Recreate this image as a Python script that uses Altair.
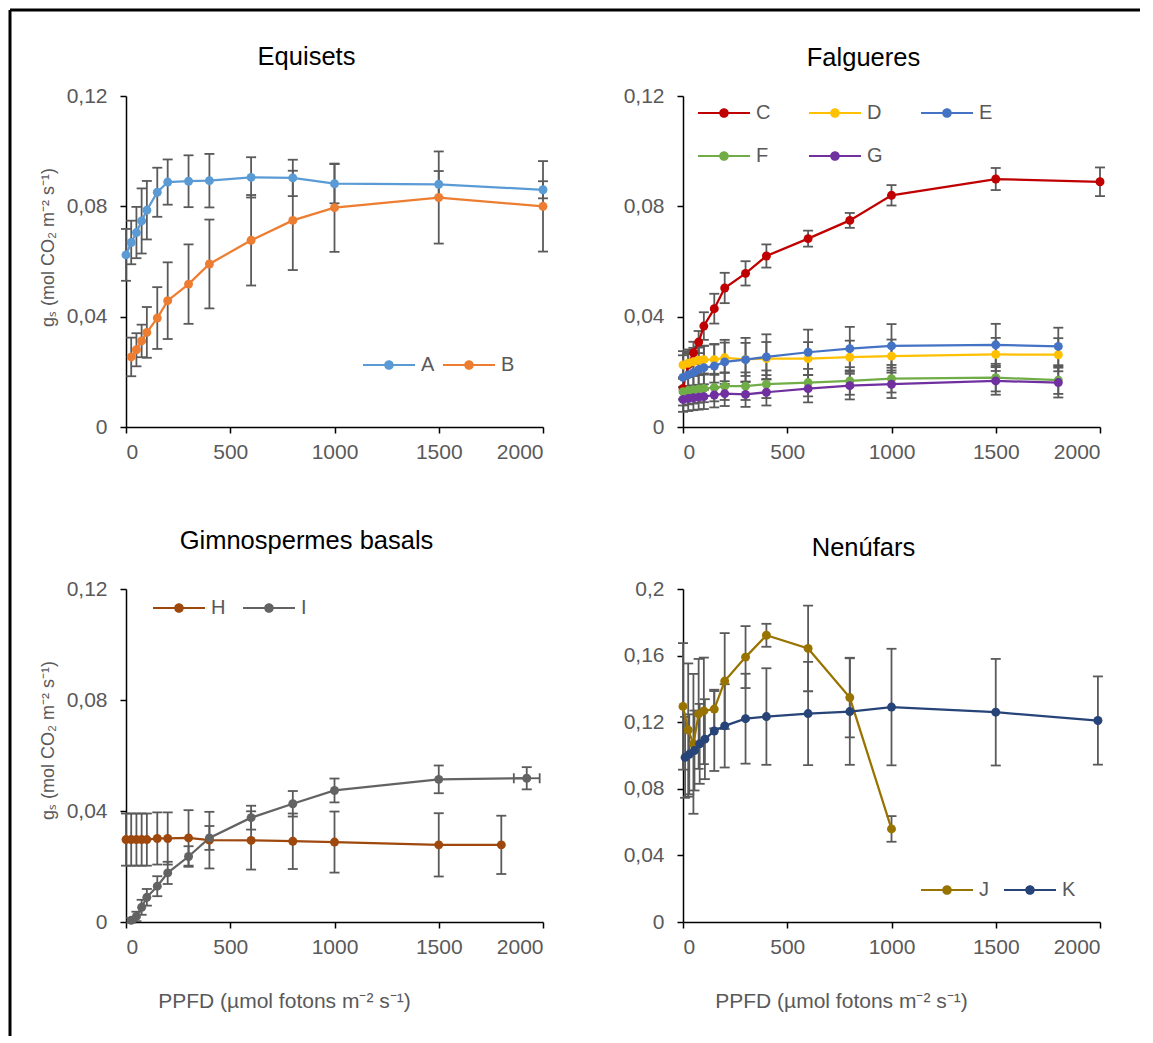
import altair as alt
import pandas as pd

FONT = "Liberation Sans"
TXT = "#595959"
ERR = "#5a5a5a"

# ---------------- Equisets ----------------
A_x = [0, 25, 50, 75, 100, 150, 200, 300, 400, 600, 800, 1000, 1500, 2000]
A_y = [0.0624, 0.0669, 0.0705, 0.0747, 0.0786, 0.0851, 0.0888, 0.0891, 0.0893, 0.0905, 0.0903, 0.0882, 0.0880, 0.0860]
A_e = [0.0094, 0.0079, 0.0093, 0.0118, 0.0106, 0.0089, 0.0082, 0.0094, 0.0097, 0.0073, 0.0066, 0.0071, 0.0048, 0.0031]
B_x = [25, 50, 75, 100, 150, 200, 300, 400, 600, 800, 1000, 1500, 2000]
B_y = [0.0254, 0.0280, 0.0312, 0.0343, 0.0395, 0.0458, 0.0518, 0.0591, 0.0677, 0.0749, 0.0795, 0.0832, 0.0800]
B_e = [0.0070, 0.0060, 0.0059, 0.0092, 0.0112, 0.0139, 0.0144, 0.0161, 0.0164, 0.0180, 0.0160, 0.0167, 0.0164]

# ---------------- Falgueres ----------------
F_x = [0, 25, 50, 75, 100, 150, 200, 300, 400, 600, 800, 1000, 1500, 1800]
C_x = [0, 25, 50, 75, 100, 150, 200, 300, 400, 600, 800, 1000, 1500, 2000]
C_y = [0.0140, 0.0225, 0.0269, 0.0308, 0.0366, 0.0429, 0.0504, 0.0557, 0.0620, 0.0683, 0.0749, 0.0840, 0.0899, 0.0889]
C_e = [0.0040, 0.0040, 0.0040, 0.0040, 0.0050, 0.0054, 0.0055, 0.0044, 0.0042, 0.0029, 0.0027, 0.0037, 0.0040, 0.0052]
D_y = [0.0225, 0.0231, 0.0237, 0.0242, 0.0244, 0.0244, 0.0251, 0.0245, 0.0248, 0.0248, 0.0253, 0.0257, 0.0263, 0.0262]
D_e = [0.0050, 0.0050, 0.0050, 0.0050, 0.0050, 0.0055, 0.0055, 0.0060, 0.0060, 0.0060, 0.0060, 0.0060, 0.0060, 0.0060]
E_y = [0.0180, 0.0189, 0.0197, 0.0208, 0.0215, 0.0221, 0.0236, 0.0244, 0.0254, 0.0271, 0.0284, 0.0294, 0.0298, 0.0292]
E_e = [0.0080, 0.0080, 0.0080, 0.0080, 0.0080, 0.0080, 0.0080, 0.0079, 0.0082, 0.0082, 0.0079, 0.0079, 0.0076, 0.0068]
Fs_y = [0.0128, 0.0132, 0.0135, 0.0138, 0.0140, 0.0143, 0.0148, 0.0148, 0.0155, 0.0161, 0.0167, 0.0175, 0.0179, 0.0170]
Fs_e = [0.0050, 0.0050, 0.0050, 0.0050, 0.0050, 0.0050, 0.0050, 0.0050, 0.0050, 0.0050, 0.0050, 0.0050, 0.0050, 0.0050]
G_y = [0.0100, 0.0103, 0.0106, 0.0108, 0.0110, 0.0116, 0.0121, 0.0118, 0.0126, 0.0139, 0.0150, 0.0155, 0.0167, 0.0161]
G_e = [0.0045, 0.0045, 0.0045, 0.0045, 0.0045, 0.0045, 0.0045, 0.0045, 0.0048, 0.0050, 0.0050, 0.0050, 0.0050, 0.0054]

# ---------------- Gimnospermes basals ----------------
H_x = [0, 25, 50, 75, 100, 150, 200, 300, 400, 600, 800, 1000, 1500, 1800]
H_y = [0.0297, 0.0297, 0.0297, 0.0297, 0.0297, 0.0301, 0.0301, 0.0303, 0.0295, 0.0294, 0.0291, 0.0288, 0.0278, 0.0278]
H_e = [0.0094, 0.0094, 0.0094, 0.0094, 0.0094, 0.0094, 0.0094, 0.0100, 0.0102, 0.0105, 0.0100, 0.0110, 0.0114, 0.0105]
I_x = [25, 50, 75, 100, 150, 200, 300, 400, 600, 800, 1000, 1500, 1922]
I_y = [0.0006, 0.0020, 0.0053, 0.0089, 0.0129, 0.0177, 0.0236, 0.0303, 0.0376, 0.0426, 0.0474, 0.0514, 0.0518]
I_e = [0.0008, 0.0017, 0.0027, 0.0030, 0.0036, 0.0040, 0.0037, 0.0043, 0.0043, 0.0046, 0.0043, 0.0050, 0.0040]
I_last_xerr = 62

# ---------------- Nenúfars ----------------
J_x = [0, 25, 50, 75, 100, 150, 200, 300, 400, 600, 800, 1000]
J_y = [0.1295, 0.1153, 0.1070, 0.1250, 0.1268, 0.1279, 0.1447, 0.1591, 0.1722, 0.1643, 0.1348, 0.0559]
J_e = [0.0380, 0.0400, 0.0420, 0.0330, 0.0320, 0.0116, 0.0288, 0.0186, 0.0069, 0.0257, 0.0239, 0.0077]
K_x = [10, 30, 55, 80, 105, 150, 200, 300, 400, 600, 800, 1000, 1500, 1990]
K_y = [0.0989, 0.1007, 0.1030, 0.1070, 0.1098, 0.1147, 0.1178, 0.1221, 0.1234, 0.1252, 0.1264, 0.1291, 0.1260, 0.1210]
K_e = [0.0243, 0.0240, 0.0240, 0.0240, 0.0240, 0.0240, 0.0250, 0.0270, 0.0290, 0.0310, 0.0320, 0.0350, 0.0320, 0.0265]

YTITLE = "gₛ (mol CO₂ m⁻² s⁻¹)"
XTITLE = "PPFD (µmol fotons m⁻² s⁻¹)"

# legend symbol: a line with a dot in the middle (filled shapes only)
LEG_PATH = ("M-1.3,-0.056L1.3,-0.056L1.3,0.056L-1.3,0.056Z "
            "M-0.24,0A0.24,0.24 0 1,1 0.24,0A0.24,0.24 0 1,1 -0.24,0Z")


def make_df(series, colors):
    rows = []
    for (name, xs, ys, es), col in zip(series, colors):
        for i, (x, y, e) in enumerate(zip(xs, ys, es)):
            rows.append(dict(series=name, col=col, x=x, y=y, lo=y - e, hi=y + e, i=i))
    return pd.DataFrame(rows)


def panel(series, colors, title, toff, ymax, ystep, height, leg, ytitle, xtitle,
          extra=None, frame=False):
    names = [s[0] for s in series]
    df = make_df(series, colors)
    xscale = alt.Scale(domain=[0, 2000], nice=False, zero=False)
    yscale = alt.Scale(domain=[0, ymax], nice=False)
    nt = int(round(ymax / ystep))
    yvals = [round(k * ystep, 2) for k in range(nt + 1)]
    xkw = dict(values=[0, 500, 1000, 1500, 2000], title=None, format="d")
    if xtitle:
        xkw.update(title=XTITLE, titleX=158, titleY=79, titleBaseline="middle",
                   titleAnchor="middle")
    ykw = dict(values=yvals, title=None,
               labelExpr="replace(format(datum.value, '~g'), '.', ',')")
    if ytitle:
        ykw.update(title=YTITLE, titleX=-78, titleY=151, titleBaseline="middle",
                   titleAnchor="middle", titleAngle=270)
    xaxis = alt.Axis(**xkw)
    yaxis = alt.Axis(**ykw)
    X = alt.X("x:Q", scale=xscale, axis=xaxis)
    cscale = alt.Scale(domain=names, range=colors)
    base = alt.Chart(df)

    bars = base.mark_rule(color=ERR, strokeWidth=1.8).encode(
        x=X, y=alt.Y("lo:Q", scale=yscale, axis=yaxis), y2="hi:Q")
    caps = base.transform_fold(["lo", "hi"], as_=["k", "v"]).mark_tick(
        orient="horizontal", size=10, thickness=1.8, color=ERR, opacity=1).encode(
        x=X, y=alt.Y("v:Q", scale=yscale, axis=yaxis))
    line = base.mark_line(strokeWidth=2.25).encode(
        x=X, y=alt.Y("y:Q", scale=yscale, axis=yaxis),
        stroke=alt.Stroke("col:N", scale=None),
        detail="series:N",
        order="i:Q")
    legend = alt.Legend(
        title=None, orient="none", legendX=leg[0], legendY=leg[1],
        direction="horizontal", columns=leg[2], columnPadding=leg[3], rowPadding=13,
        symbolType=LEG_PATH, symbolSize=1600, symbolStrokeWidth=0, symbolOpacity=1,
        labelFont=FONT, labelFontSize=20, labelColor=TXT, labelOffset=12, padding=0)
    pts = base.mark_circle(size=80, opacity=1).encode(
        x=X, y=alt.Y("y:Q", scale=yscale, axis=yaxis),
        color=alt.Color("series:N", scale=cscale, legend=legend))
    layers = [bars, caps]
    if extra is not None:
        edf = pd.DataFrame(extra)
        layers.append(alt.Chart(edf).mark_rule(color=ERR, strokeWidth=1.8).encode(
            x=alt.X("xlo:Q", scale=xscale, axis=xaxis), x2="xhi:Q",
            y=alt.Y("y:Q", scale=yscale, axis=yaxis)))
        layers.append(alt.Chart(edf).transform_fold(["xlo", "xhi"], as_=["k", "v"]).mark_tick(
            orient="vertical", size=10, thickness=1.8, color=ERR, opacity=1).encode(
            x=alt.X("v:Q", scale=xscale, axis=xaxis),
            y=alt.Y("y:Q", scale=yscale, axis=yaxis)))
    layers += [line, pts]
    if frame:
        fdf = pd.DataFrame({"k": [0]})
        layers.append(alt.Chart(fdf).mark_rule(color="black", strokeWidth=3).encode(
            x=alt.value(-116), x2=alt.value(1014), y=alt.value(-86)))
        layers.append(alt.Chart(fdf).mark_rule(color="black", strokeWidth=3).encode(
            x=alt.value(-116), y=alt.value(-86), y2=alt.value(940)))
    return alt.layer(*layers).properties(
        width=417, height=height,
        title=alt.TitleParams(text=title, font=FONT, fontSize=25.5, fontWeight="normal",
                              color="black", anchor="middle", frame="group",
                              dx=-28, offset=toff))


p1 = panel([("A", A_x, A_y, A_e), ("B", B_x, B_y, B_e)],
           ["#5B9BD5", "#ED7D31"], "Equisets", -62, 0.12, 0.04, 331,
           (243, 249, 2, 8), True, False, frame=True)
p2 = panel([("C", C_x, C_y, C_e), ("D", F_x, D_y, D_e), ("E", F_x, E_y, E_e),
            ("F", F_x, Fs_y, Fs_e), ("G", F_x, G_y, G_e)],
           ["#C00000", "#FFC000", "#4472C4", "#70AD47", "#7030A0"], "Falgueres", 14,
           0.12, 0.04, 331, (21, -3, 3, 38), False, False)
p3 = panel([("H", H_x, H_y, H_e), ("I", I_x, I_y, I_e)],
           ["#9E480E", "#636363"], "Gimnospermes basals", 24, 0.12, 0.04, 333,
           (33, -1, 2, 17), True, True,
           extra={"xlo": [I_x[-1] - I_last_xerr], "xhi": [I_x[-1] + I_last_xerr], "y": [I_y[-1]]})
p4 = panel([("J", J_x, J_y, J_e), ("K", K_x, K_y, K_e)],
           ["#997300", "#264478"], "Nenúfars", 17, 0.2, 0.04, 333,
           (244, 281, 2, 15), False, True)

chart = alt.concat(p1, p2, p3, p4, columns=2, spacing={"row": 162, "column": 140},
                   bounds="flush").resolve_scale(color="independent").properties(
    padding=0, background="white"
).configure_view(stroke="transparent").configure_axis(
    grid=False, labelFont=FONT, titleFont=FONT, labelFontSize=21, titleFontSize=18,
    labelColor=TXT, titleColor=TXT, titleFontWeight="normal",
    domainColor="black", domainWidth=1.5, tickColor="black", tickWidth=1.5, tickSize=6
).configure_axisX(labelPadding=8, titleFontSize=21).configure_axisY(labelPadding=13)

chart.save("out.html", embed_options={"renderer": "svg", "actions": False})
